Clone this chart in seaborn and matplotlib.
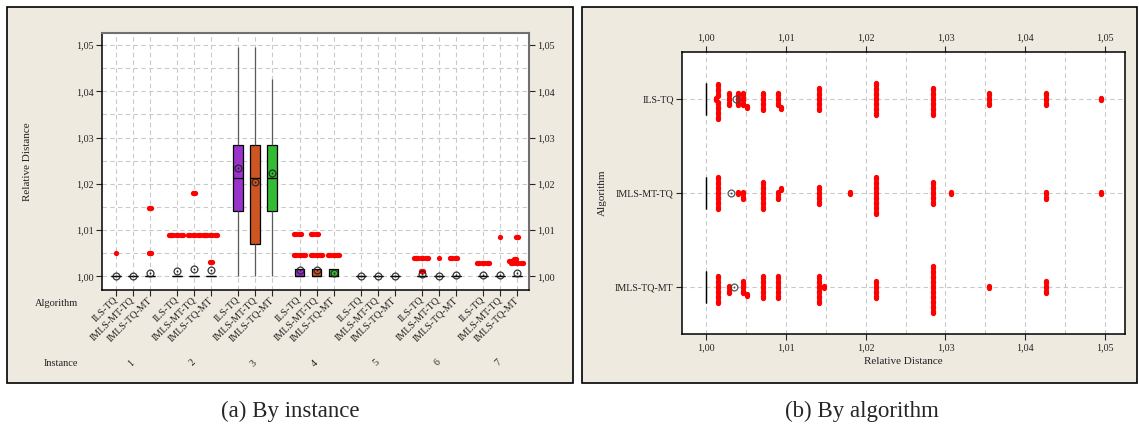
import warnings
import numpy as np
import pandas as pd
import matplotlib
matplotlib.use("Agg")
import matplotlib.pyplot as plt
import matplotlib.transforms as mtrans
from matplotlib.patches import Rectangle
from matplotlib.path import Path
from matplotlib.ticker import FuncFormatter, MultipleLocator
import seaborn as sns

warnings.filterwarnings("ignore")

algorithms = ["ILS-TQ", "IMLS-MT-TQ", "IMLS-TQ-MT"]
instances = ["1", "2", "3", "4", "5", "6", "7"]
box_colors = ["#9933CC", "#CC5522", "#33BB33"]
runs_per_instance = 30
runs_per_algorithm = 210

# (a) runs that did not reach 1,00 -> (value, count), order ILS-TQ, IMLS-MT-TQ, IMLS-TQ-MT
inst1 = [[(1.005, 1)], [], [(1.005, 1), (1.0148, 1)]]
inst2 = [[(1.009, 4)], [(1.009, 3), (1.018, 1)], [(1.003, 1), (1.009, 4)]]
inst3 = [
    [(1.00155, 2), (1.0071, 2), (1.009, 1), (1.0142, 3), (1.0213, 7), (1.0284, 7),
     (1.0355, 3), (1.0426, 3), (1.0495, 1)],
    [(1.00155, 3), (1.0071, 5), (1.0142, 3), (1.0213, 5), (1.0284, 9), (1.0307, 1),
     (1.0426, 2), (1.0495, 1)],
    [(1.00155, 2), (1.0071, 2), (1.009, 2), (1.0142, 3), (1.0213, 6), (1.0284, 9),
     (1.0355, 1), (1.0426, 4)],
]
inst4 = [[(1.0016, 4), (1.0046, 3), (1.0092, 2)],
         [(1.0016, 4), (1.0046, 3), (1.0092, 2)],
         [(1.0016, 6), (1.0046, 3)]]
inst5 = [[], [], []]
inst6 = [[(1.0012, 1), (1.0039, 4)], [(1.0039, 1)], [(1.0039, 2)]]
inst7 = [[(1.0029, 3)], [(1.0085, 1)],
         [(1.0029, 3), (1.0033, 1), (1.0038, 1), (1.0085, 1)]]

# (b) all runs of one algorithm
ils_all = [(1.00125, 1), (1.00155, 7), (1.0029, 3), (1.004, 3), (1.0046, 3), (1.0051, 1),
           (1.0071, 4), (1.009, 3), (1.0094, 1), (1.0142, 5), (1.0213, 7), (1.0284, 6),
           (1.0355, 3), (1.0426, 3), (1.0495, 1)]
mt_all = [(1.00155, 7), (1.004, 1), (1.0046, 2), (1.0071, 6), (1.009, 2), (1.0094, 1),
          (1.0142, 4), (1.0181, 1), (1.0213, 8), (1.0284, 5), (1.0307, 1), (1.0426, 2),
          (1.0495, 1)]
tqmt_all = [(1.00155, 6), (1.0029, 2), (1.0046, 3), (1.0051, 1), (1.0071, 5), (1.009, 5),
            (1.0142, 6), (1.0148, 1), (1.0213, 4), (1.0284, 10), (1.0355, 1), (1.0426, 3)]


def expand(pairs, n_total):
    vals = [v for v, c in pairs for _ in range(c)]
    return [1.0] * (n_total - len(vals)) + vals


def outliers(df, key):
    g = df.groupby(key)["value"]
    q1 = g.transform(lambda s: s.quantile(0.25))
    q3 = g.transform(lambda s: s.quantile(0.75))
    iqr = q3 - q1
    mask = (df["value"] > q3 + 1.5 * iqr + 1e-9) | (df["value"] < q1 - 1.5 * iqr - 1e-9)
    return df[mask]


def capsule(straight, vertical=True):
    # stadium shaped marker of unit width, so stacked tied outliers read as one bar
    a = np.linspace(0, np.pi, 24)
    top = np.column_stack([0.5 * np.cos(a), straight / 2 + 0.5 * np.sin(a)])
    verts = np.vstack([top, -top, top[:1]])
    if not vertical:
        verts = verts[:, ::-1]
    return Path(verts, closed=True)


group_step = 3.6
rows = []
for i, inst in enumerate([inst1, inst2, inst3, inst4, inst5, inst6, inst7]):
    for j, alg in enumerate(algorithms):
        for v in expand(inst[j], runs_per_instance):
            rows.append((instances[i], alg, i * group_step + j, v))
df_a = pd.DataFrame(rows, columns=["instance", "algorithm", "pos", "value"])

rows = []
for alg, pairs in zip(algorithms, [ils_all, mt_all, tqmt_all]):
    for v in expand(pairs, runs_per_algorithm):
        rows.append((alg, v))
df_b = pd.DataFrame(rows, columns=["algorithm", "value"])

out_a = outliers(df_a, "pos")
out_b = outliers(df_b, "algorithm")

sns.set_style("white")
plt.rcParams["font.family"] = ["Liberation Serif", "DejaVu Serif"]
plt.rcParams["axes.unicode_minus"] = False

comma = FuncFormatter(lambda v, p: f"{v:.2f}".replace(".", ","))
grid_kw = dict(color="#c9c9c9", linestyle=(0, (4, 3)), linewidth=0.8)
mean_kw = dict(marker=r"$\odot$", markersize=5.5, markerfacecolor="#222222",
               markeredgecolor="#222222", markeredgewidth=0.2, zorder=5)
text_col = "#222222"
swarm_size = 3.4   # spacing of tied points (pt)
dot_width = 3.75   # drawn width of the red marks (pt)

W, H = 1139, 425
fig = plt.figure(figsize=(W / 100, H / 100), dpi=100)
panel_bg = "#EEEAE0"
fig.add_artist(Rectangle((7 / W, 1 - 383 / H), 566 / W, 376 / H, transform=fig.transFigure,
                         facecolor=panel_bg, edgecolor="black", linewidth=1.2, zorder=0))
fig.add_artist(Rectangle((582 / W, 1 - 383 / H), 555 / W, 376 / H, transform=fig.transFigure,
                         facecolor=panel_bg, edgecolor="black", linewidth=1.2, zorder=0))

# ---------- (a) by instance ----------
ax_a = fig.add_axes([102 / W, 1 - 290 / H, 427 / W, 257 / H])
ax_a.set_facecolor("white")
sns.boxplot(data=df_a, x="pos", y="value", hue="algorithm", hue_order=algorithms,
            palette=dict(zip(algorithms, box_colors)), saturation=1, native_scale=True,
            dodge=False, width=0.58, orient="v", showfliers=False, showcaps=False,
            showmeans=True, meanprops=mean_kw, linecolor="black", linewidth=0.9,
            whiskerprops=dict(color="#5a5a5a"), legend=False, ax=ax_a)
sns.swarmplot(data=out_a, x="pos", y="value", native_scale=True, orient="v", color="red",
              size=swarm_size, linewidth=0, zorder=3, ax=ax_a)

positions = sorted(df_a["pos"].unique())
ax_a.set_xticks(positions)
ax_a.set_xticklabels(algorithms * len(instances), rotation=45, ha="right", va="center",
                     rotation_mode="anchor", fontsize=7.2, color=text_col)
ax_a.set_xlim(-0.82, (len(instances) - 1) * group_step + 2.7)
ax_a.set_ylim(0.99705, 1.0526)
ax_a.yaxis.set_major_locator(MultipleLocator(0.01))
ax_a.yaxis.set_minor_locator(MultipleLocator(0.005))
ax_a.yaxis.set_major_formatter(comma)
ax_a.tick_params(axis="y", which="major", left=True, right=True, labelleft=True,
                 labelright=True, length=4, width=0.8, labelsize=7.2, labelcolor=text_col, pad=2)
ax_a.tick_params(axis="x", which="major", bottom=True, length=4, width=0.8, pad=2)
ax_a.tick_params(which="minor", length=0)
ax_a.grid(axis="y", which="both", **grid_kw)
ax_a.grid(axis="x", which="major", **grid_kw)
ax_a.set_axisbelow(True)
ax_a.set_xlabel("")
ax_a.set_ylabel("")
for side in ["left", "bottom"]:
    ax_a.spines[side].set_color("black")
    ax_a.spines[side].set_linewidth(1.1)
for side in ["top", "right"]:
    ax_a.spines[side].set_color("#707070")
    ax_a.spines[side].set_linewidth(1.5)

blend = mtrans.blended_transform_factory(ax_a.transData, fig.transFigure)
for i, inst in enumerate(instances):
    ax_a.text(i * group_step + 1 - 0.1, 1 - 363 / H, inst, transform=blend, rotation=45,
              ha="center", va="center", fontsize=7.2, color=text_col)
fig.text(78 / W, 1 - 303 / H, "Algorithm", ha="right", va="center", fontsize=7.5, color=text_col)
fig.text(78 / W, 1 - 363 / H, "Instance", ha="right", va="center", fontsize=7.5, color=text_col)
fig.text(28 / W, 1 - 162 / H, "Relative Distance", rotation=90, ha="center", va="center",
         fontsize=8, color=text_col)

# ---------- (b) by algorithm ----------
ax_b = fig.add_axes([682 / W, 1 - 334 / H, 443 / W, 282 / H])
ax_b.set_facecolor("white")
sns.boxplot(data=df_b, x="value", y="algorithm", order=algorithms, orient="h", width=0.35,
            color="white", saturation=1, showfliers=False, showcaps=False, showmeans=True,
            meanprops=dict(mean_kw, markerfacecolor="#444444", markeredgecolor="#444444"),
            linecolor="black", linewidth=0.9, ax=ax_b)
sns.swarmplot(data=out_b, x="value", y="algorithm", order=algorithms, orient="h",
              color="red", size=swarm_size, linewidth=0, zorder=3, ax=ax_b)

ax_b.set_xlim(0.99699, 1.0525)
ax_b.set_ylim(2.5, -0.5)
ax_b.xaxis.set_major_locator(MultipleLocator(0.01))
ax_b.xaxis.set_minor_locator(MultipleLocator(0.005))
ax_b.xaxis.set_major_formatter(comma)
ax_b.tick_params(axis="x", which="major", top=True, labeltop=True, bottom=True,
                 labelbottom=True, length=4, width=0.8, labelsize=7.2, labelcolor=text_col, pad=3)
ax_b.tick_params(axis="y", which="major", left=True, length=4, width=0.8, labelsize=7.2,
                 labelcolor=text_col, pad=2)
ax_b.tick_params(which="minor", length=0)
ax_b.grid(axis="x", which="both", **grid_kw)
ax_b.grid(axis="y", which="major", **grid_kw)
ax_b.set_axisbelow(True)
ax_b.set_xlabel("")
ax_b.set_ylabel("")
for side in ax_b.spines:
    ax_b.spines[side].set_color("black")
    ax_b.spines[side].set_linewidth(1.1)
fig.text(602 / W, 1 - 193 / H, "Algorithm", rotation=90, ha="center", va="center",
         fontsize=8, color=text_col)
fig.text(903 / W, 1 - 362 / H, "Relative Distance", ha="center", va="center",
         fontsize=8, color=text_col)

# captions
fig.text(290 / W, 1 - 411 / H, "(a) By instance", ha="center", va="center", fontsize=16.5)
fig.text(862 / W, 1 - 411 / H, "(b) By algorithm", ha="center", va="center", fontsize=16.5)

# let seaborn place the swarms once, then freeze them and swap the dots for
# short stadium marks so tied outliers merge into solid bars like in Minitab
fig.canvas.draw()
for ax, vertical in ((ax_a, False), (ax_b, True)):
    for coll in ax.collections:
        if "draw" in coll.__dict__:
            del coll.draw
        straight = 0.4 if len(coll.get_offsets()) > 1 else 0.0
        coll.set_paths([capsule(straight, vertical)])
        coll.set_sizes([dot_width ** 2])

fig.savefig("out.png", dpi=100)
